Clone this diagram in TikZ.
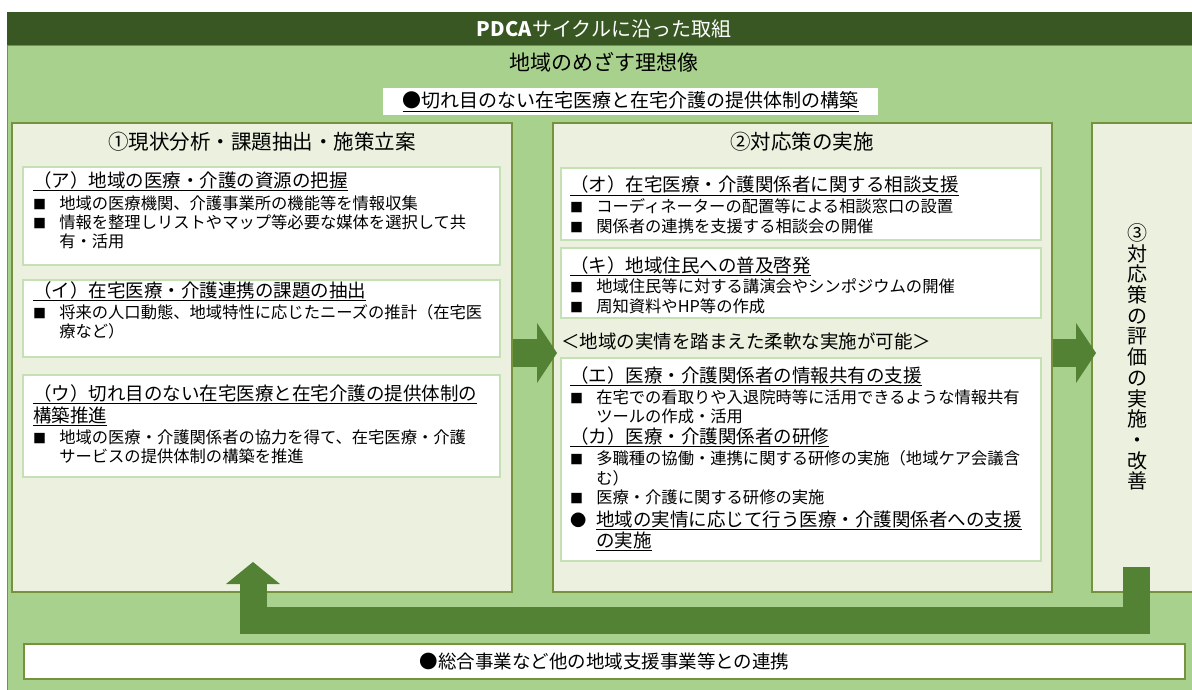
\documentclass[tikz,border=0pt]{standalone}
\usepackage{fontspec}
\setmainfont{Noto Sans CJK JP}
\usetikzlibrary{arrows.meta, positioning}
\definecolor{bardark}{RGB}{56,87,35}
\definecolor{bglight}{RGB}{169,209,142}
\definecolor{panelfill}{RGB}{235,241,222}
\definecolor{paneledge}{RGB}{118,146,60}
\definecolor{subedge}{RGB}{197,224,180}
\definecolor{arrowgreen}{RGB}{84,130,53}

\newcommand{\sq}{\makebox[1.6em][l]{\fontsize{13}{13}\selectfont ■}}
\newcommand{\ind}{\hspace*{1.6em}}
\newcommand{\hd}[1]{{\fontsize{18.5}{19.5}\selectfont\underline{#1}}}

\tikzset{
  panel/.style={draw=paneledge, line width=2pt, fill=panelfill, outer sep=0pt, anchor=north west, minimum height=469pt},
  subbox/.style={draw=subedge, line width=2pt, fill=white},
  boxtext/.style={anchor=base west, inner sep=0pt, text width=#1, align=left, font=\fontsize{16.3}{19.5}\selectfont},
  paneltitle/.style={font=\fontsize{20.5}{24}\selectfont},
  flow/.style={arrowgreen, line width=28pt, -{Triangle[length=20pt, width=60pt, line width=0pt]}},
  returnarrow/.style={arrowgreen, line width=27pt, line join=miter, -{Triangle[length=22pt, width=54pt, line width=0pt]}},
}

\begin{document}
\begin{tikzpicture}[x=1pt, y=-1pt]
    \useasboundingbox (0,0) rectangle (1192,690);
    \clip (0,0) rectangle (1192,690);
    \fill[white] (0,0) rectangle (1192,690);

    % frame and heading
    \draw[paneledge, fill=bglight] (7,45) rectangle (1210,700);
    \fill[bardark] (7,12) rectangle (1210,45);
    \node[text=white, font=\fontsize{20}{24}\selectfont] (title) at (604,29) {\textbf{PDCA}サイクルに沿った取組};
    \node[font=\fontsize{21}{24}\selectfont] (ideal) at (604,62) {地域のめざす理想像};
    \node[fill=white, anchor=north west, minimum width=495pt, minimum height=27pt, font=\fontsize{19}{22}\selectfont] (goal) at (383,88)
        {\underline{●切れ目のない在宅医療と在宅介護の提供体制の構築}};

    % three stages
    \node[panel, minimum width=500pt] (p1) at (12,123) {};
    \node[panel, minimum width=499pt] (p2) at (553,123) {};
    \node[panel, minimum width=140pt] (p3) at (1092,123) {};
    \node[paneltitle] (p1t) at (262,141.5) {①現状分析・課題抽出・施策立案};
    \node[paneltitle] (p2t) at (802,141.5) {②対応策の実施};
    \node[align=center, font=\fontsize{20}{20.7}\selectfont] (p3t) at (1137,357)
        {③\\対\\応\\策\\の\\評\\価\\の\\実\\施\\・\\改\\善};

    % stage 1
    \draw[subbox] (23,167) rectangle (500,265);
    \draw[subbox] (23,280) rectangle (500,357);
    \draw[subbox] (23,375) rectangle (500,477);
    \node[boxtext=470pt] (ta) at (33,187) {\hd{（ア）地域の医療・介護の資源の把握}\\[2.5pt]
        \sq 地域の医療機関、介護事業所の機能等を情報収集\\
        \sq 情報を整理しリストやマップ等必要な媒体を選択して共\\
        \ind 有・活用};
    \node[boxtext=470pt] (ti) at (33,297) {\hd{（イ）在宅医療・介護連携の課題の抽出}\\[1.5pt]
        \sq 将来の人口動態、地域特性に応じたニーズの推計（在宅医\\
        \ind 療など）};
    \node[boxtext=470pt] (tu) at (33,400) {\hd{（ウ）切れ目のない在宅医療と在宅介護の提供体制の}\\[2.5pt]
        \hd{構築推進}\\[1.5pt]
        \sq 地域の医療・介護関係者の協力を得て、在宅医療・介護\\
        \ind サービスの提供体制の構築を推進};

    % stage 2
    \draw[subbox] (561,168) rectangle (1041,240);
    \draw[subbox] (561,248) rectangle (1041,318);
    \draw[subbox] (561,358) rectangle (1041,561);
    \node[boxtext=465pt] (to) at (570,192) {\hd{（オ）在宅医療・介護関係者に関する相談支援}\\[1pt]
        \sq コーディネーターの配置等による相談窓口の設置\\
        \sq 関係者の連携を支援する相談会の開催};
    \node[boxtext=465pt] (tk) at (570,272) {\hd{（キ）地域住民への普及啓発}\\[1pt]
        \sq 地域住民等に対する講演会やシンポジウムの開催\\
        \sq 周知資料やHP等の作成};
    \node[anchor=base west, inner sep=0pt, font=\fontsize{18.5}{20}\selectfont] (flex) at (561,348)
        {＜地域の実情を踏まえた柔軟な実施が可能＞};
    \node[boxtext=465pt] (te) at (570,382) {\hd{（エ）医療・介護関係者の情報共有の支援}\\[1.5pt]
        \sq 在宅での看取りや入退院時等に活用できるような情報共有\\
        \ind ツールの作成・活用\\[1pt]
        \hd{（カ）医療・介護関係者の研修}\\[2pt]
        \sq 多職種の協働・連携に関する研修の実施（地域ケア会議含\\
        \ind む）\\
        \sq 医療・介護に関する研修の実施\\[3.5pt]
        \makebox[1.6em][l]{●}\hd{地域の実情に応じて行う医療・介護関係者への支援}\\[1.5pt]
        \ind\hd{の実施}};

    % arrows between stages
    \coordinate (row) at (0,353);
    \draw[flow] ([xshift=1pt]p1.east |- row) -- ([xshift=4pt]p2.west |- row);
    \draw[flow] ([xshift=1pt]p2.east |- row) -- ([xshift=4pt]p3.west |- row);

    % feedback from 3 to 1
    \coordinate (backfrom) at (1136,567);
    \coordinate (backto) at (253,562);
    \draw[returnarrow] (backfrom) -- (backfrom |- 0,620) -- (backto |- 0,620) -- (backto);

    \node[draw=paneledge, line width=2pt, fill=white, anchor=north west, minimum width=1161pt, minimum height=35pt,
        font=\fontsize{18.5}{22}\selectfont] (link) at (23,643) {●総合事業など他の地域支援事業等との連携};
\end{tikzpicture}
\end{document}
